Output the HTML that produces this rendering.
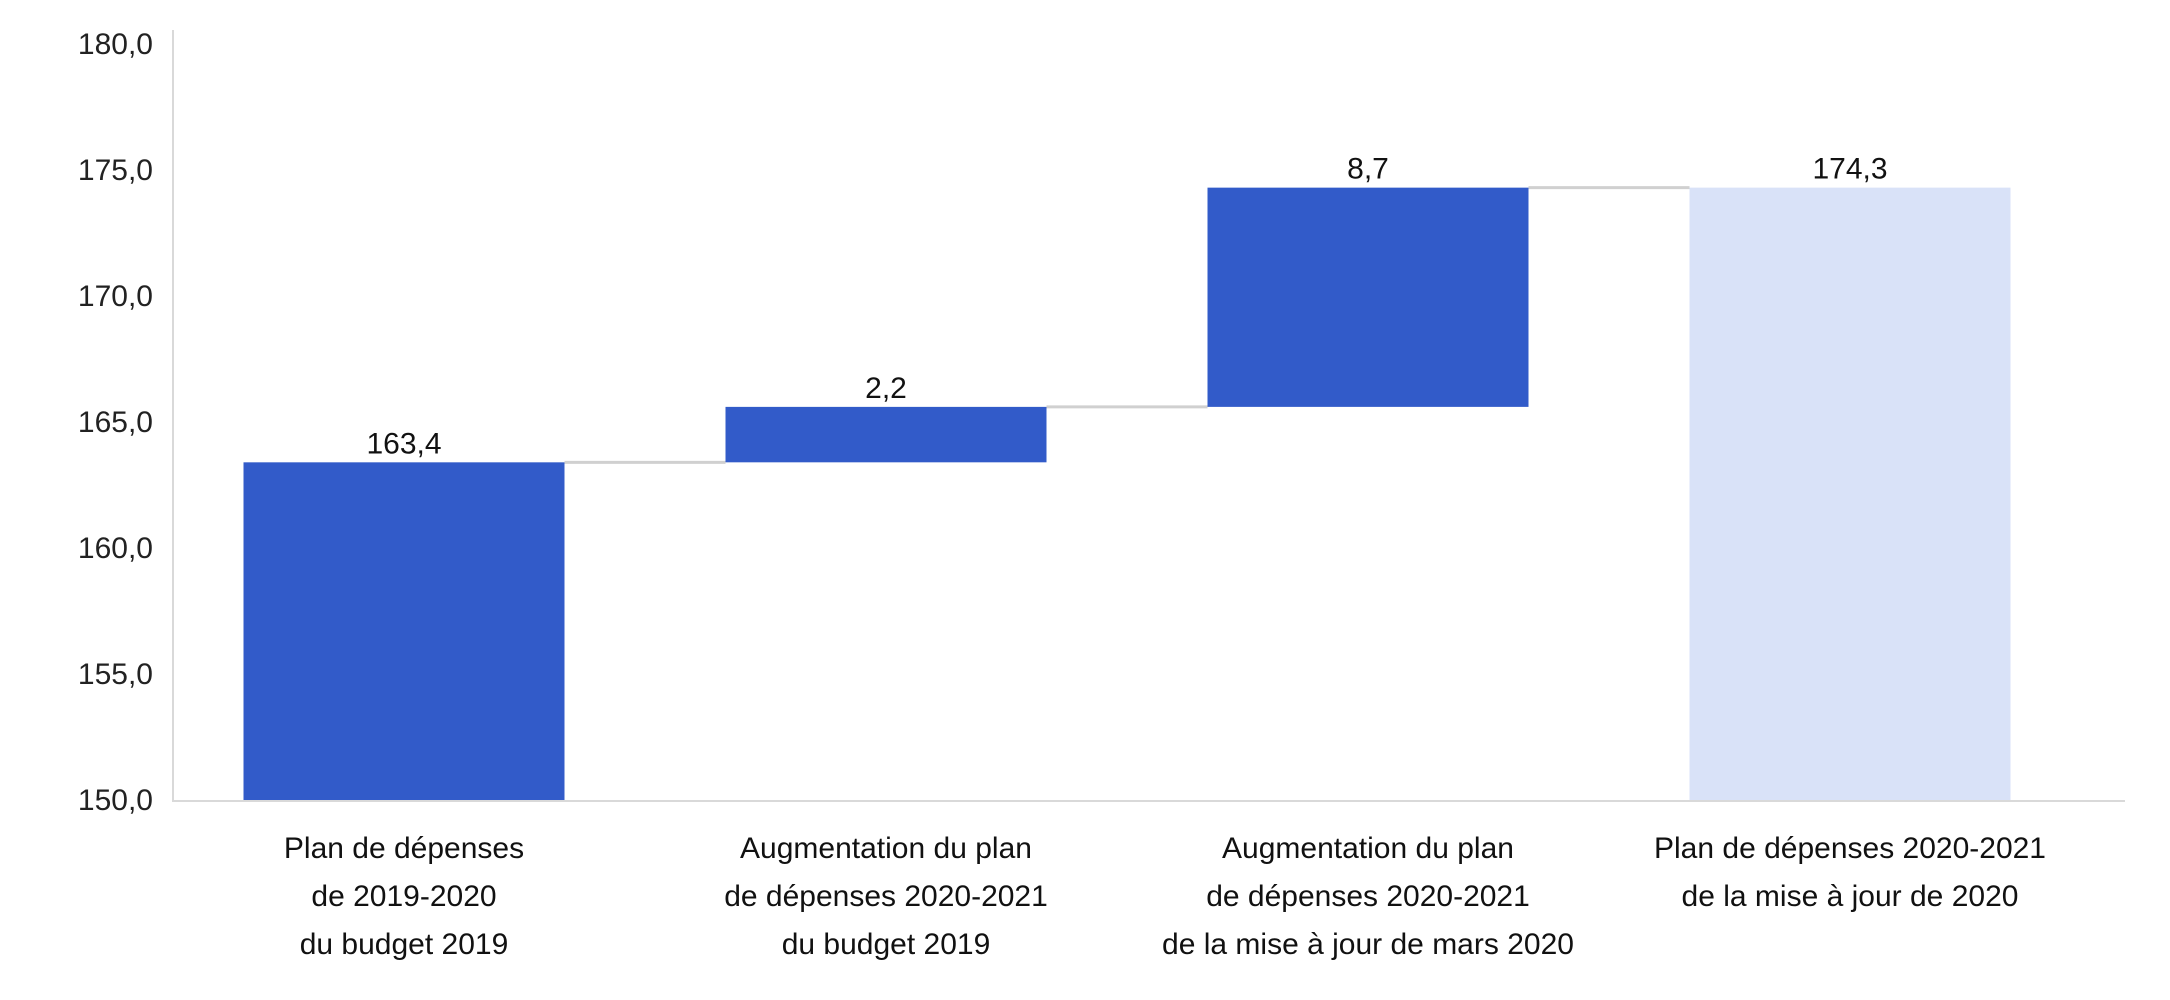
<!DOCTYPE html>
<html><head><meta charset="utf-8"><style>
html,body{margin:0;padding:0;background:#fff;}
svg{display:block;font-family:"Liberation Sans",sans-serif;}
</style></head><body>
<svg id="chart" width="2170" height="1000">
<g id="g"></g>
</svg>
<script>
const categories = [
 ["Plan de dépenses","de 2019-2020","du budget 2019"],
 ["Augmentation du plan","de dépenses 2020-2021","du budget 2019"],
 ["Augmentation du plan","de dépenses 2020-2021","de la mise à jour de mars 2020"],
 ["Plan de dépenses 2020-2021","de la mise à jour de 2020"]
];
const deltas = [163.4, 2.2, 8.7, 174.3];
const isTotal = [true, false, false, true];
const valueLabels = ["163,4","2,2","8,7","174,3"];
const ticks = [150,155,160,165,170,175,180];
const tickLabels = ["150,0","155,0","160,0","165,0","170,0","175,0","180,0"];

const NS="http://www.w3.org/2000/svg";
const g=document.getElementById('g');
const yMin=150, y0=800, unit=25.2;
const y=v=>y0-(v-yMin)*unit;
const x0=404, step=482, bw=321;
const cx=i=>x0+i*step;
function mk(t,a){const e=document.createElementNS(NS,t);for(const k in a)e.setAttribute(k,a[k]);g.appendChild(e);return e;}

// axes
let ax=mk('line',{x1:173,y1:30,x2:173,y2:801,stroke:'#d9d9d9','stroke-width':2});


let bx=mk('line',{x1:172,y1:801,x2:2125,y2:801,stroke:'#d9d9d9','stroke-width':2});



ticks.forEach((t,i)=>{
 const e=mk('text',{x:153,y:y(t)+10,'text-anchor':'end','font-size':30,fill:'#222'});
 e.textContent=tickLabels[i];
 
 
});

let run=0, prevTop=null;
deltas.forEach((d,i)=>{
 let lo,hi;
 if(isTotal[i]){lo=yMin;hi=d;run=d;}else{lo=run;hi=run+d;run=hi;}
 const left=cx(i)-bw/2;
 if(prevTop!==null){
  const c=mk('line',{x1:left-(step-bw),y1:y(prevTop),x2:left,y2:y(prevTop),stroke:'#d0d0d0','stroke-width':3});
  
  
 }
 const r=mk('rect',{x:left,y:y(hi),width:bw,height:y(lo)-y(hi),fill:(i===deltas.length-1)?'#d9e2f8':'#325bc9'});
 
 
 const v=mk('text',{x:cx(i),y:y(hi)-9,'text-anchor':'middle','font-size':30,fill:'#111'});
 v.textContent=valueLabels[i];
 
 
 categories[i].forEach((ln,j)=>{
  const t=mk('text',{x:cx(i),y:858+j*48,'text-anchor':'middle','font-size':30,fill:'#111'});
  t.textContent=ln;
  
  
 });
 prevTop=hi;
});
</script>
</body></html>
